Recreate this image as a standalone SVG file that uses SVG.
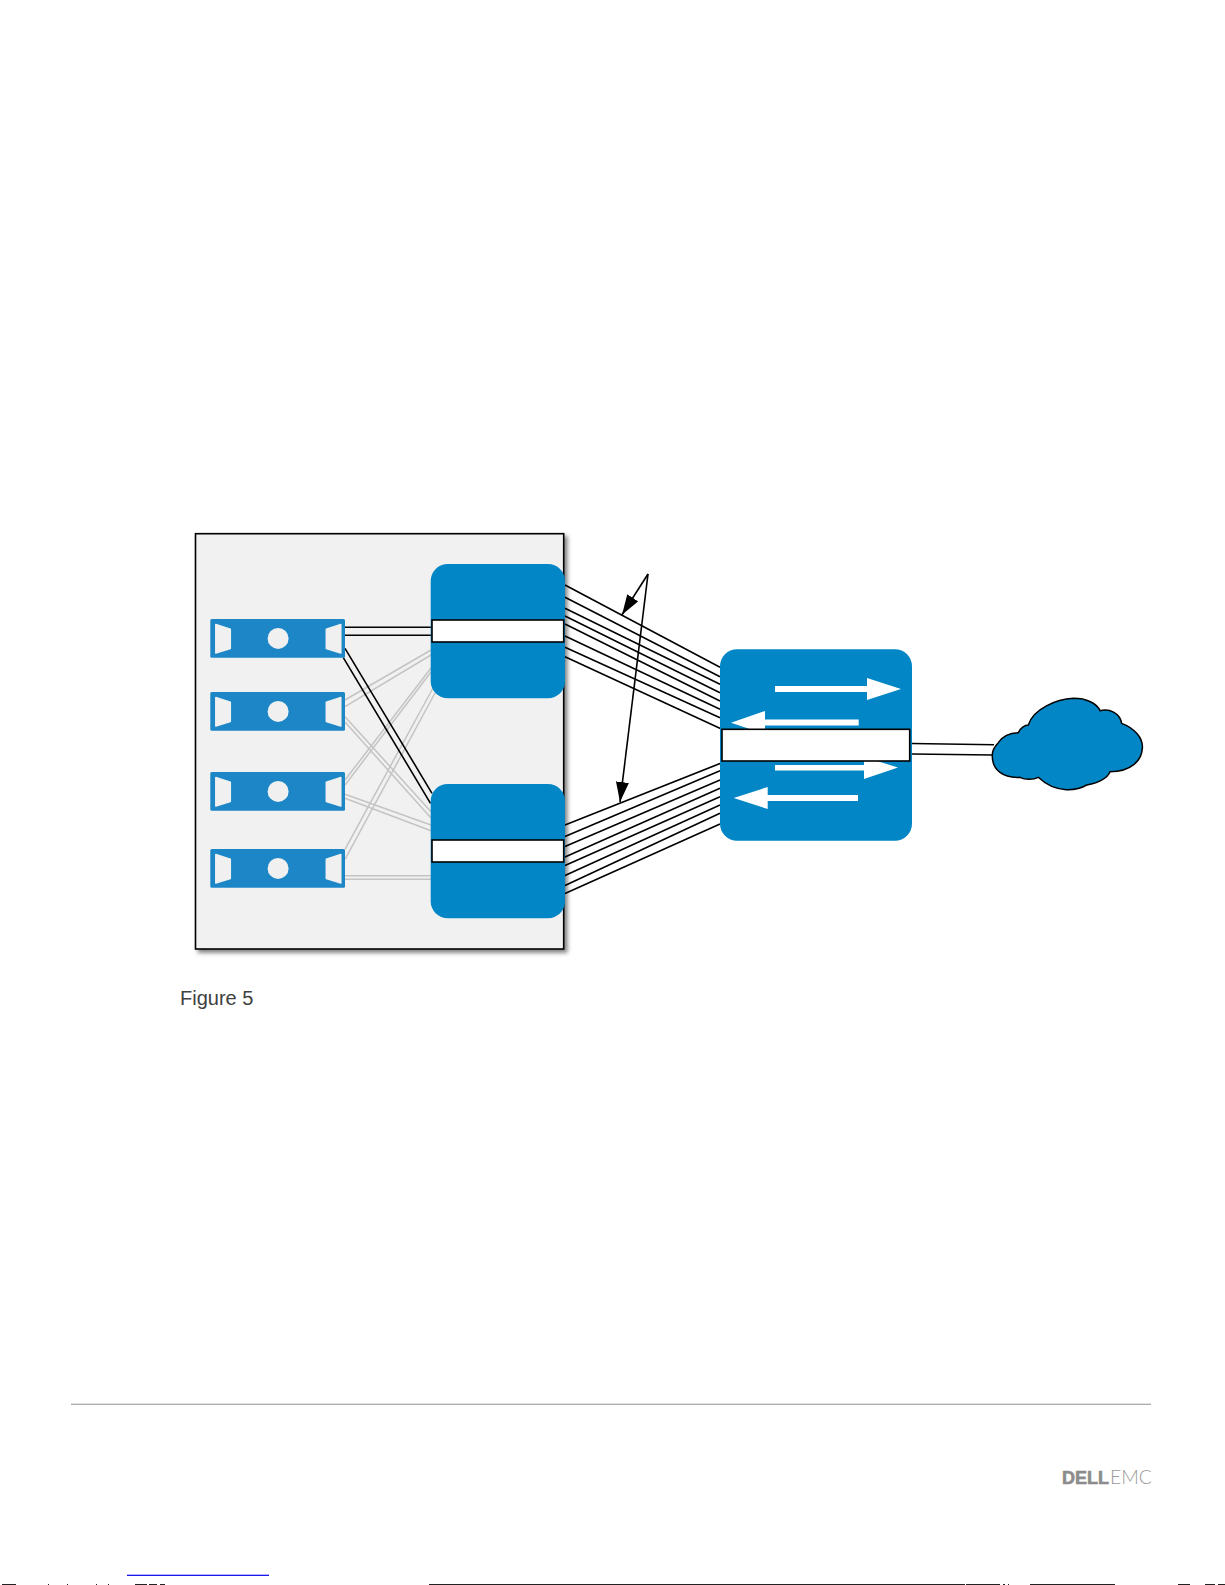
<svg xmlns="http://www.w3.org/2000/svg" width="1225" height="1585" viewBox="0 0 1225 1585">
<style>
.blue{fill:#0286c5}
.srv{fill:#1c86c7}
.ic{fill:#f0f0f0}
.bar{fill:#fff;stroke:#000;stroke-width:1.6}
.k{stroke:#000;stroke-width:1.6;fill:none}
.g{stroke:#c4c4c4;stroke-width:1.5;fill:none}
.w{fill:#fff}
.noise{fill:#222}
</style>
<defs>
<filter id="sh" x="-5%" y="-5%" width="110%" height="110%"><feDropShadow dx="3" dy="3" stdDev="2.5" flood-color="#000" flood-opacity=".5"/></filter>
<marker id="ah" markerUnits="userSpaceOnUse" markerWidth="22" markerHeight="14" refX="20" refY="6.5" orient="auto"><path d="M0 0L20 6.5L0 13Z" fill="#000"/></marker>
<g id="srvicon">
<rect class="srv" x="0" y="0" width="134.7" height="38.7" rx="1.5"/>
<path class="ic" d="M5.5 5.5L20 10.2V29.5L5.5 34Z" stroke="#f0f0f0" stroke-width="1.5" stroke-linejoin="round"/>
<circle class="ic" cx="67.8" cy="19.4" r="10.5"/>
<path class="ic" d="M130.5 5.5L116 10.2V29.5L130.5 34Z" stroke="#f0f0f0" stroke-width="1.5" stroke-linejoin="round"/>
</g>
</defs>
<rect width="1225" height="1585" fill="#fff"/>
<g id="chassis"><rect x="195.5" y="533.7" width="368.2" height="415.3" fill="#f1f1f1" stroke="#000" stroke-width="1.6" filter="url(#sh)"/></g>
<g id="connectors">
<path class="g" d="M345 700L431 650M345 706.7L431 655M345 716.7L431 811.7M345 722L431 818M345 780L431 668M345 785L431 672M345 794.3L431 825M345 798.3L431 830.7M345 849.3L433 688M345 859.3L435 693M345 875.7H431M345 879.3H431"/>
<path class="k" d="M345 627.3H431M345 635.3H431M345 648.3L432 793.3M343.3 657.7L430.5 803.3"/>
<path class="k" d="M565 585L720 667.3M565 597.3L720 676.7M565 608.3L720 684.3M565 616L720 692.7M565 624L720 701M565 636L720 709.3M565 647.3L720 717.7M565 656.7L722 729.3"/>
<path class="k" d="M565 825L722 762.7M565 836.5L720 770.7M565 846.5L720 780M565 857L720 788.3M565 865.5L720 796.7M565 875.5L720 805M565 885.5L720 813.3M565 893.5L720 824"/>
<path class="k" d="M912 743.5L994 744.7M912 754L993 755"/>
<path class="k" d="M648 574L622 614.7" marker-end="url(#ah)"/>
<path class="k" d="M648 574L620 802" marker-end="url(#ah)"/>
</g>
<g id="server1"><use href="#srvicon" x="210.3" y="619"/></g>
<g id="server2"><use href="#srvicon" x="210.3" y="692"/></g>
<g id="server3"><use href="#srvicon" x="210.3" y="772"/></g>
<g id="server4"><use href="#srvicon" x="210.3" y="849"/></g>
<g id="switchA"><rect class="blue" x="430.7" y="564" width="134.3" height="134.3" rx="17"/><rect class="bar" x="432" y="620" width="131.7" height="22"/></g>
<g id="switchB"><rect class="blue" x="430.7" y="784" width="134.3" height="134.3" rx="17"/><rect class="bar" x="432" y="840" width="131.7" height="22"/></g>
<g id="switchC">
<rect class="blue" x="720" y="649.3" width="192" height="191.4" rx="17"/>
<path class="w" d="M775 686H867V678L901 689L867 700V692H775Z"/>
<path class="w" d="M731 722.7L765 711V719.5H858.7V725.5H765V734Z"/>
<path class="w" d="M775 765H864V757L898 767.5L864 779V770.5H775Z"/>
<path class="w" d="M733.7 798L767.7 787V795H858V801H767.7V809Z"/>
<rect class="bar" x="722" y="729.3" width="187.7" height="31.7"/>
</g>
<g id="cloud"><path transform="translate(890 670) scale(.33333)" class="blue" stroke="#000" stroke-width="4.5" d="M325 218C340 195 365 188 385 188C390 175 405 165 415 165C430 115 500 88 550 85C590 85 620 100 630 122C660 115 690 130 695 160C735 175 760 205 757 235C755 270 725 305 660 305C650 330 615 340 590 345C565 360 500 375 445 322C430 330 405 330 390 322C340 325 305 300 307 255C307 240 315 228 325 218Z"/></g>
<text x="180" y="1005" font-family="Liberation Sans, Arial, sans-serif" font-size="20" fill="#404040">Figure 5</text>
<rect x="71" y="1403.7" width="1080" height="1.2" fill="#a3a3a3"/>
<g id="logo" font-size="19" fill="#8c8c8c">
<text x="1062" y="1484.3" font-family="Liberation Sans, Arial, sans-serif" font-weight="700" stroke="#8c8c8c" stroke-width=".6" textLength="47" lengthAdjust="spacingAndGlyphs">DELL</text>
<text x="1110" y="1484.3" font-family="Lato, Liberation Sans, sans-serif" font-weight="300" textLength="42" lengthAdjust="spacingAndGlyphs" fill="#9a9a9a">EMC</text>
</g>
<rect x="127" y="1574.7" width="142" height="1.2" fill="#0000ee"/>
<g id="pageedge" class="noise">
<rect x="2" y="1584" width="14" height="1"/><rect x="48" y="1584" width="1" height="1"/><rect x="67" y="1584" width="1" height="1"/><rect x="96" y="1584" width="1" height="1"/><rect x="108" y="1584" width="1" height="1"/><rect x="135" y="1584" width="12" height="1"/><rect x="149" y="1584" width="8" height="1"/><rect x="160" y="1584" width="5" height="1"/>
<rect x="429" y="1584" width="536" height="1"/><rect x="966" y="1584" width="34" height="1"/><rect x="1003" y="1584" width="2" height="1"/><rect x="1008" y="1584" width="1" height="1"/><rect x="1030" y="1584" width="85" height="1"/><rect x="1178" y="1584" width="12" height="1"/><rect x="1205" y="1584" width="10" height="1"/><rect x="1218" y="1584" width="7" height="1"/>
</g>
</svg>
